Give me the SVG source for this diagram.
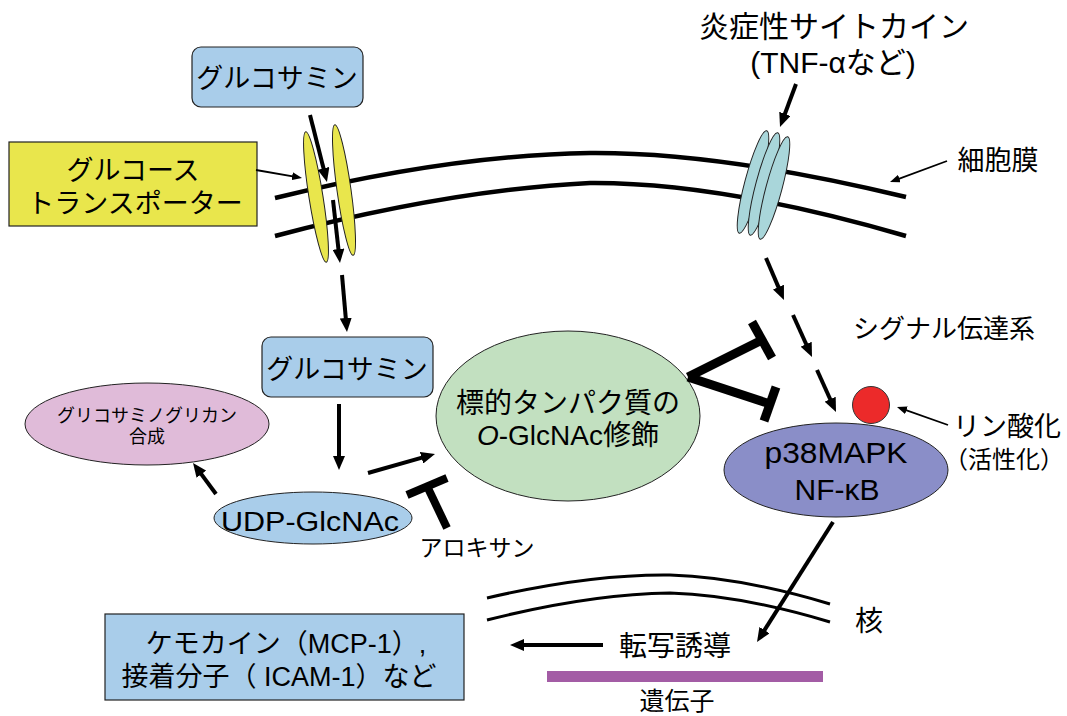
<svg xmlns="http://www.w3.org/2000/svg" width="1067" height="716" viewBox="0 0 1067 716">
  <style>
    .t { font-family: "Liberation Sans", "Noto Sans CJK JP", sans-serif; fill: #000; text-anchor: middle; }
    .mem { fill: none; stroke: #000; stroke-width: 4.5; }
    .nuc { fill: none; stroke: #000; stroke-width: 3; }
    .arr { fill: none; stroke: #000; stroke-width: 4; marker-end: url(#ah); }
    .thin { fill: none; stroke: #000; stroke-width: 1.8; marker-end: url(#ahs); }
    .inh { stroke: #000; stroke-width: 9; }
    .box { fill: #a9cdea; stroke: #222; stroke-width: 1.2; }
    .edge { stroke: #222; stroke-width: 1; }
  </style>
  <defs>
    <marker id="ah" viewBox="0 0 14 12" markerWidth="14" markerHeight="12" refX="6" refY="6" orient="auto" markerUnits="userSpaceOnUse">
      <path d="M0,0 L14,6 L0,12 z" fill="#000"/>
    </marker>
    <marker id="ahs" viewBox="0 0 10 8" markerWidth="10" markerHeight="8" refX="5" refY="4" orient="auto" markerUnits="userSpaceOnUse">
      <path d="M0,0 L10,4 L0,8 z" fill="#000"/>
    </marker>
  </defs>
  <rect width="1067" height="716" fill="#fff"/>

  <!-- cell membrane -->
  <g id="cell-membrane">
    <path class="mem" d="M275,198 Q450,155 590,153 Q720,152 906,197"/>
    <path class="mem" d="M275,236 Q450,190 590,183 Q720,182 906,236"/>
    <text class="t" x="998" y="170" font-size="27">細胞膜</text>
  </g>

  <!-- nuclear envelope -->
  <g id="nucleus">
    <path class="nuc" d="M487,598 Q590,574 670,575 Q740,577 830,604"/>
    <path class="nuc" d="M487,620 Q590,594 670,593 Q740,595 830,622"/>
    <text class="t" x="869" y="631" font-size="28">核</text>
  </g>

  <!-- glucose transporter in the membrane -->
  <g id="glucose-transporter-channel">
    <ellipse class="edge" cx="316" cy="197" rx="7" ry="66" fill="#e9e64c" transform="rotate(-9 316 197)"/>
    <ellipse class="edge" cx="344" cy="190" rx="7" ry="66" fill="#e9e64c" transform="rotate(-8 344 190)"/>
  </g>

  <!-- cytokine receptor in the membrane -->
  <g id="cytokine-receptor">
    <ellipse class="edge" cx="753" cy="182" rx="8" ry="53" fill="#a9d6da" transform="rotate(15 753 182)"/>
    <ellipse class="edge" cx="764" cy="184" rx="8" ry="53" fill="#a9d6da" transform="rotate(15 764 184)"/>
    <ellipse class="edge" cx="774" cy="188" rx="8" ry="53" fill="#a9d6da" transform="rotate(15 774 188)"/>
  </g>

  <g id="glucose-transporter-label">
    <rect x="9" y="142" width="248" height="84" fill="#e9e64c" stroke="#222" stroke-width="1.2"/>
    <text class="t" x="133" y="180" font-size="27">グルコース</text>
    <text class="t" x="135" y="213" font-size="27">トランスポーター</text>
  </g>

  <g id="glucosamine-outside">
    <rect class="box" x="192" y="47" width="171" height="60" rx="9"/>
    <text class="t" x="277" y="88" font-size="27">グルコサミン</text>
  </g>

  <g id="glucosamine-inside">
    <rect class="box" x="262" y="337" width="171" height="60" rx="9"/>
    <text class="t" x="347" y="379" font-size="27">グルコサミン</text>
  </g>

  <g id="gag-synthesis">
    <ellipse class="edge" cx="147" cy="424" rx="122" ry="41" fill="#e0bbd9"/>
    <text class="t" x="147" y="422" font-size="18">グリコサミノグリカン</text>
    <text class="t" x="147" y="443" font-size="18">合成</text>
  </g>

  <g id="udp-glcnac">
    <ellipse class="edge" cx="313" cy="518" rx="99" ry="26" fill="#a9cdea"/>
    <text class="t" x="310" y="531" font-size="27" textLength="178" lengthAdjust="spacingAndGlyphs">UDP-GlcNAc</text>
  </g>

  <g id="o-glcnac-modification">
    <ellipse class="edge" cx="568" cy="416" rx="132" ry="85" fill="#c2e0c0"/>
    <text class="t" x="568" y="413" font-size="28">標的タンパク質の</text>
    <text class="t" x="568" y="445" font-size="28"><tspan font-style="italic">O</tspan>-GlcNAc修飾</text>
  </g>

  <g id="p38-nfkb">
    <ellipse class="edge" cx="836" cy="470" rx="112" ry="47" fill="#8a8ec8"/>
    <text class="t" x="836" y="463" font-size="30" textLength="143" lengthAdjust="spacingAndGlyphs">p38MAPK</text>
    <text class="t" x="837" y="500" font-size="30">NF-κB</text>
  </g>

  <g id="phosphorylation">
    <circle cx="871" cy="405" r="18.5" fill="#ec2a2a" stroke="#333" stroke-width="1"/>
    <text class="t" x="1007" y="436" font-size="27">リン酸化</text>
    <text class="t" x="1004" y="468" font-size="24">（活性化）</text>
  </g>

  <g id="cytokine-label">
    <text class="t" x="834" y="37" font-size="30">炎症性サイトカイン</text>
    <text class="t" x="833" y="73" font-size="30">(TNF-αなど)</text>
  </g>

  <g id="signal-label">
    <text class="t" x="944" y="338" font-size="26">シグナル伝達系</text>
  </g>

  <g id="alloxan">
    <text class="t" x="477" y="556" font-size="23">アロキサン</text>
  </g>

  <g id="gene">
    <rect x="547" y="671" width="276" height="11" fill="#a35ca5"/>
    <text class="t" x="677" y="710" font-size="25">遺伝子</text>
  </g>

  <g id="transcription-label">
    <text class="t" x="675" y="656" font-size="28">転写誘導</text>
  </g>

  <g id="chemokines">
    <rect x="105" y="614" width="359" height="86" fill="#a9cdea" stroke="#222" stroke-width="1.2"/>
    <text class="t" x="286" y="653" font-size="27">ケモカイン（MCP-1）,</text>
    <text class="t" x="279" y="686" font-size="27">接着分子（ ICAM-1）など</text>
  </g>

  <!-- connectors -->
  <g id="connectors">
    <line class="arr" x1="310" y1="115" x2="325" y2="174.2"/>
    <line class="arr" x1="333" y1="200" x2="339.1" y2="255"/>
    <line class="arr" x1="342" y1="275" x2="346.3" y2="324"/>
    <line class="arr" x1="796" y1="84" x2="782.8" y2="119.5"/>
    <line class="arr" x1="766" y1="258" x2="780.8" y2="292.6"/>
    <line class="arr" x1="793" y1="315" x2="808.7" y2="349.7"/>
    <line class="arr" x1="817" y1="370" x2="832.7" y2="404.7"/>
    <line class="arr" x1="833" y1="522" x2="761.3" y2="635.2"/>
    <line class="arr" x1="603" y1="645" x2="518" y2="645"/>
    <line class="arr" x1="339" y1="404" x2="339" y2="462"/>
    <line class="arr" x1="368" y1="473" x2="427.3" y2="456.2"/>
    <line class="arr" x1="216" y1="494" x2="197.8" y2="469.4"/>

    <line class="thin" x1="256" y1="170" x2="297.1" y2="177.1"/>
    <line class="thin" x1="947" y1="161" x2="894.7" y2="180.3"/>
    <line class="thin" x1="948" y1="425" x2="901.7" y2="408.7"/>

    <!-- inhibition of the signalling pathway -->
    <line class="inh" x1="688" y1="377" x2="762" y2="340"/>
    <line class="inh" x1="752" y1="322" x2="772" y2="358"/>
    <line class="inh" x1="688" y1="377" x2="770" y2="404"/>
    <line class="inh" x1="776" y1="387" x2="764" y2="421"/>

    <!-- alloxan blocks O-GlcNAc transfer -->
    <line class="inh" style="stroke-width:8" x1="427" y1="486" x2="447" y2="528"/>
    <line class="inh" style="stroke-width:8" x1="407" y1="495" x2="447" y2="478"/>
  </g>
</svg>
